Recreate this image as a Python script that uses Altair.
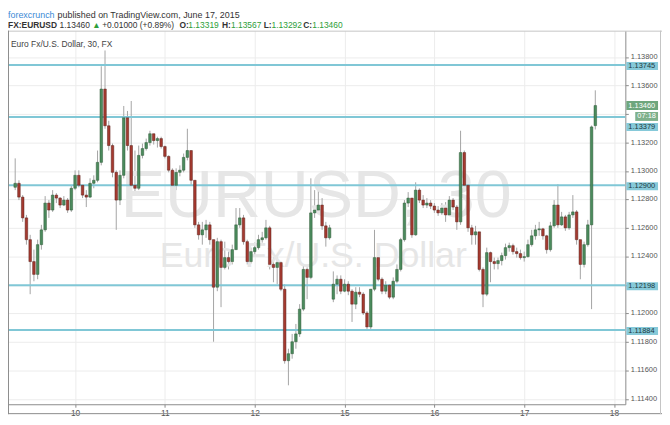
import altair as alt
import pandas as pd

# ---------------- data (hourly candles) ----------------
START = -16            # bar index of first candle (0 = June 10 00:00)
first_open = 1.12886
closes = [
    1.12914, 1.12817, 1.12671, 1.12518, 1.12364, 1.12274, 1.12483, 1.12587, 1.12775, 1.12726,
    1.12831, 1.12810, 1.12761, 1.12796, 1.12726, 1.12879,
    1.12970, 1.12900, 1.12831, 1.12817, 1.12914, 1.12935, 1.13061, 1.13576, 1.13318, 1.13179,
    1.12991, 1.12796, 1.12970, 1.13374, 1.13179, 1.12900, 1.12879, 1.13110, 1.13158, 1.13200,
    1.13262, 1.13214, 1.13228, 1.13172, 1.13103, 1.13006, 1.12900, 1.12991, 1.13006, 1.13096,
    1.13144, 1.12935, 1.12622, 1.12552, 1.12587, 1.12622, 1.12518, 1.12184, 1.12504, 1.12323,
    1.12392, 1.12364, 1.12448, 1.12622, 1.12671, 1.12504, 1.12364, 1.12434, 1.12462, 1.12518,
    1.12531, 1.12601, 1.12344, 1.12323, 1.12357, 1.12170, 1.11668, 1.11717, 1.11801, 1.11856,
    1.12030, 1.12309, 1.12253, 1.12706, 1.12726, 1.12761, 1.12615, 1.12531, 1.12601, 1.12205,
    1.12240, 1.12156, 1.12205, 1.12156, 1.12065, 1.12149, 1.12135, 1.12003, 1.11905, 1.12170,
    1.12392, 1.12240, 1.12156, 1.12198, 1.12114, 1.12226, 1.12309, 1.12518, 1.12775, 1.12810,
    1.12552, 1.12866, 1.12796, 1.12761, 1.12775, 1.12754, 1.12726, 1.12706, 1.12740, 1.12692,
    1.12796, 1.12747, 1.12643, 1.13130, 1.12900, 1.12601, 1.12552, 1.12573, 1.12309, 1.12135,
    1.12427, 1.12364, 1.12350, 1.12371, 1.12406, 1.12462, 1.12476, 1.12434, 1.12420, 1.12392,
    1.12399, 1.12483, 1.12545, 1.12587, 1.12594, 1.12545, 1.12448, 1.12615, 1.12761, 1.12622,
    1.12678, 1.12601, 1.12692, 1.12713, 1.12518, 1.12344, 1.12483, 1.12622, 1.13310, 1.13460,
]
highs = [
    1.13089, 1.12935, 1.12831, 1.12692, 1.12552, 1.12448, 1.12518, 1.12622, 1.12824, 1.12796,
    1.12866, 1.12845, 1.12817, 1.12824, 1.12810, 1.12900,
    1.13005, 1.13005, 1.12900, 1.12866, 1.12949, 1.12970, 1.13144, 1.13736, 1.13847, 1.13353,
    1.13193, 1.13005, 1.13005, 1.13457, 1.13422, 1.13492, 1.13144, 1.13179, 1.13193, 1.13228,
    1.13283, 1.13262, 1.13241, 1.13241, 1.13179, 1.13110, 1.13019, 1.13019, 1.13040, 1.13123,
    1.13297, 1.13144, 1.12935, 1.12643, 1.12643, 1.12657, 1.12643, 1.12518, 1.12531, 1.12518,
    1.12504, 1.12434, 1.12483, 1.12740, 1.12740, 1.12692, 1.12518, 1.12462, 1.12497, 1.12552,
    1.12573, 1.12657, 1.12615, 1.12392, 1.12392, 1.12364, 1.12205, 1.11752, 1.11856, 1.11926,
    1.12065, 1.12344, 1.12323, 1.12949, 1.12866, 1.12879, 1.12810, 1.12643, 1.12622, 1.12295,
    1.12267, 1.12267, 1.12240, 1.12226, 1.12170, 1.12184, 1.12184, 1.12149, 1.12016, 1.12170,
    1.12587, 1.12448, 1.12253, 1.12226, 1.12205, 1.12253, 1.12344, 1.12531, 1.12796, 1.12852,
    1.12810, 1.12921, 1.12879, 1.12831, 1.12810, 1.12796, 1.12775, 1.12754, 1.12775, 1.12782,
    1.12824, 1.12810, 1.12761, 1.13283, 1.13144, 1.12914, 1.12622, 1.12615, 1.12573, 1.12323,
    1.12462, 1.12434, 1.12392, 1.12392, 1.12427, 1.12490, 1.12497, 1.12490, 1.12462, 1.12448,
    1.12434, 1.12518, 1.12587, 1.12622, 1.12643, 1.12601, 1.12552, 1.12643, 1.12796, 1.12907,
    1.12713, 1.12692, 1.12713, 1.12831, 1.12726, 1.12518, 1.12504, 1.12657, 1.13320, 1.13567,
]
lows = [
    1.12866, 1.12796, 1.12643, 1.12483, 1.12135, 1.12226, 1.12240, 1.12448, 1.12573, 1.12671,
    1.12713, 1.12775, 1.12740, 1.12754, 1.12706, 1.12713,
    1.12866, 1.12886, 1.12810, 1.12747, 1.12810, 1.12879, 1.12921, 1.13040, 1.13297, 1.13144,
    1.12956, 1.12587, 1.12761, 1.12949, 1.13144, 1.12866, 1.12852, 1.12866, 1.13089, 1.13144,
    1.13179, 1.13186, 1.13165, 1.13158, 1.13089, 1.12991, 1.12845, 1.12866, 1.12963, 1.12991,
    1.13075, 1.12900, 1.12601, 1.12518, 1.12483, 1.12531, 1.12483, 1.11801, 1.12156, 1.12044,
    1.12309, 1.12309, 1.12344, 1.12448, 1.12601, 1.12483, 1.12344, 1.12350, 1.12406, 1.12448,
    1.12497, 1.12518, 1.12309, 1.12219, 1.12205, 1.12156, 1.11647, 1.11495, 1.11682, 1.11752,
    1.11835, 1.12016, 1.12100, 1.12240, 1.12671, 1.12706, 1.12587, 1.12469, 1.12518, 1.12079,
    1.12135, 1.12135, 1.12149, 1.12128, 1.11940, 1.12030, 1.12114, 1.11989, 1.11891, 1.11891,
    1.12156, 1.12226, 1.12135, 1.12135, 1.12100, 1.12100, 1.12212, 1.12295, 1.12504, 1.12747,
    1.12531, 1.12545, 1.12775, 1.12740, 1.12740, 1.12733, 1.12706, 1.12685, 1.12692, 1.12643,
    1.12685, 1.12726, 1.12587, 1.12622, 1.12879, 1.12573, 1.12483, 1.12483, 1.12295, 1.12044,
    1.12121, 1.12219, 1.12309, 1.12309, 1.12337, 1.12378, 1.12434, 1.12413, 1.12392, 1.12378,
    1.12364, 1.12392, 1.12469, 1.12518, 1.12545, 1.12518, 1.12420, 1.12434, 1.12601, 1.12601,
    1.12615, 1.12580, 1.12587, 1.12671, 1.12483, 1.12240, 1.12323, 1.12469, 1.12030, 1.13292,
]
gap_opens = {69: 1.12100, 139: 1.13319}   # bars whose open differs from the previous close

levels = [1.13745, 1.13379, 1.12900, 1.12198, 1.11884]
level_shifted = [False, True, False, False, False]
last_price = 1.13460
countdown = "07:18"

price_ticks = [1.114, 1.116, 1.118, 1.120, 1.122, 1.124, 1.126,
               1.128, 1.130, 1.132, 1.134, 1.136, 1.138]
hidden_price_labels = [1.122, 1.134]     # covered by the level / price boxes
day_ticks = [0, 24, 48, 72, 96, 120, 144]
day_labels = ["10", "11", "12", "15", "16", "17", "18"]

title_line = ["forexcrunch", " published on TradingView.com, June 17, 2015"]
quote_parts = [  # text, x, bold, color
    ("FX:EURUSD", 0, True, "#333333"),
    ("1.13460", 52, False, "#333333"),
    ("\u25b2", 85, False, "#2e9e3a"),
    ("+0.01000 (+0.89%)", 95, False, "#333333"),
    ("O:", 173, True, "#333333"), ("1.13319", 182, False, "#2e9e3a"),
    ("H:", 216, True, "#333333"), ("1.13567", 225, False, "#2e9e3a"),
    ("L:", 258, True, "#333333"), ("1.13292", 266, False, "#2e9e3a"),
    ("C:", 298, True, "#333333"), ("1.13460", 307, False, "#2e9e3a"),
]
symbol_desc = "Euro Fx/U.S. Dollar, 30, FX"
watermark_big = "EURUSD, 30"
watermark_small = "Euro Fx/U.S. Dollar"

# ---------------- build tables ----------------
rows = []
prev = first_open
for k, (c, h, l) in enumerate(zip(closes, highs, lows)):
    idx = START + k
    o = gap_opens.get(idx, prev)
    rows.append(dict(idx=idx, open=o, close=c, high=max(h, o, c), low=min(l, o, c),
                     dir="up" if c >= o else "down"))
    prev = c
df = pd.DataFrame(rows)

lev = pd.DataFrame({"level": levels, "label": [f"{v:.5f}" for v in levels],
                    "shifted": level_shifted})
lev_main = lev[~lev["shifted"]]
lev_shift = lev[lev["shifted"]]
cur = pd.DataFrame({"p": [last_price], "label": [f"{last_price:.5f}"], "cd": [countdown]})

W, H = 623, 377
FONT = "Liberation Sans"
xs = alt.Scale(domain=[-16.6, 145.7], nice=False, zero=False)
ys = alt.Scale(domain=[1.11362, 1.13986], nice=False, zero=False)

label_expr = "''"
for p, lab in reversed(list(zip(day_ticks, day_labels))):
    label_expr = f"datum.value == {p} ? '{lab}' : ({label_expr})"

hide_cond = " || ".join(f"abs(datum.value - {v}) < 0.000001" for v in hidden_price_labels)
y_label_expr = f"({hide_cond}) ? '' : format(datum.value, '.5f')"

X_AXIS = alt.Axis(
    values=day_ticks, labelExpr=label_expr, title=None, grid=True, gridColor="#ececec",
    domainColor="#8c8c8c", tickColor="#8c8c8c", tickSize=3, labelFontSize=8.5,
    labelColor="#555555", labelPadding=1, labelFlush=False, labelFont=FONT)
Y_AXIS = alt.Axis(
    orient="right", values=price_ticks, labelExpr=y_label_expr, title=None, grid=True,
    gridColor="#ececec", domainColor="#8c8c8c", tickColor="#8c8c8c", tickSize=3,
    labelFontSize=7.5, labelColor="#555555", labelPadding=2, labelFont=FONT, labelOffset=-0.5)


def Y(field):
    return alt.Y(field, scale=ys, axis=Y_AXIS, title=None)


def X(field):
    return alt.X(field, scale=xs, axis=X_AXIS, title=None)


def txt_layer(text, x, y, size, color, bold=False, align="left", baseline="alphabetic"):
    return alt.Chart(pd.DataFrame({"t": [text]})).mark_text(
        align=align, baseline=baseline, fontSize=size, color=color, font=FONT,
        fontWeight="bold" if bold else "normal"
    ).encode(text="t:N", x=alt.value(x), y=alt.value(y))

# watermark
wm1 = txt_layer(watermark_big, 311, 188, 67, "#e6e6e6", align="center")
wm2 = txt_layer(watermark_small, 308, 238, 36, "#e6e6e6", align="center")

level_lines = alt.Chart(lev).mark_rule(color="#80c7d6", strokeWidth=2).encode(
    y=Y("level:Q"), x=alt.value(0), x2=alt.value(W))

wicks = alt.Chart(df).mark_rule(color="#a4a4a4", strokeWidth=1).encode(
    x=X("idx:Q"), y=Y("low:Q"), y2="high:Q")

bodies = alt.Chart(df).mark_bar(size=2.6, strokeWidth=0.5).encode(
    x=X("idx:Q"),
    y=Y("open:Q"),
    y2="close:Q",
    fill=alt.Fill("dir:N", scale=alt.Scale(domain=["up", "down"], range=["#4b8b5d", "#a53a30"]), legend=None),
    stroke=alt.Stroke("dir:N", scale=alt.Scale(domain=["up", "down"], range=["#2c5736", "#5a1e18"]), legend=None),
)


def level_boxes(data, off):
    box = alt.Chart(data).mark_rule(color="#86c9d9", strokeWidth=8, yOffset=off).encode(
        y=Y("level:Q"), x=alt.value(624), x2=alt.value(656))
    lab = alt.Chart(data).mark_text(align="left", baseline="middle", fontSize=7.5,
                                    color="#1d3a41", font=FONT, yOffset=off).encode(
        y=Y("level:Q"), x=alt.value(626), text="label:N")
    return [box, lab]

lb1 = level_boxes(lev_main, 1)
lb2 = level_boxes(lev_shift, 10)

cur_box = alt.Chart(cur).mark_rule(color="#6ea67d", strokeWidth=9).encode(
    y=Y("p:Q"), x=alt.value(624), x2=alt.value(656))
cur_txt = alt.Chart(cur).mark_text(align="left", baseline="middle", fontSize=7.5,
                                   color="white", font=FONT).encode(
    y=Y("p:Q"), x=alt.value(626), text="label:N")
cd_box = alt.Chart(cur).mark_rule(color="#7eb08b", strokeWidth=9, yOffset=11).encode(
    y=Y("p:Q"), x=alt.value(633), x2=alt.value(656))
cd_txt = alt.Chart(cur).mark_text(align="center", baseline="middle", fontSize=7.5,
                                  color="white", font=FONT, yOffset=11).encode(
    y=Y("p:Q"), x=alt.value(644.5), text="cd:N")

desc = txt_layer(symbol_desc, 3, 16, 8.5, "#444444")
head1a = txt_layer(title_line[0], 0, -12.5, 9, "#3b8ad6")
head1b = txt_layer(title_line[1], 50, -12.5, 9, "#333333")
quote_layers = [txt_layer(t, x, -2.5, 8.5, c, bold=b) for t, x, b, c in quote_parts]


def hline(y, x1, x2, color):
    return alt.Chart(pd.DataFrame({"a": [0]})).mark_rule(color=color, strokeWidth=1).encode(
        y=alt.value(y), x=alt.value(x1), x2=alt.value(x2))


def vline(x, y1, y2, color):
    return alt.Chart(pd.DataFrame({"a": [0]})).mark_rule(color=color, strokeWidth=1).encode(
        x=alt.value(x), y=alt.value(y1), y2=alt.value(y2))

borders = [hline(0.5, 0, 660, "#c4c4c4"), hline(386.5, 0, 660, "#8c8c8c"),
           vline(0.5, 0, 387, "#8c8c8c"), vline(658.5, 0, 387, "#c4c4c4")]

chart = alt.layer(
    wicks, wm1, wm2, level_lines, bodies, *lb1, *lb2, cur_box, cur_txt, cd_box, cd_txt,
    desc, head1a, head1b, *quote_layers, *borders
).properties(
    width=W, height=H,
    autosize=alt.AutoSizeParams(type="none"),
    padding={"left": 0, "top": 21, "right": 37, "bottom": 11},
    background="white",
).configure_view(stroke=None).configure_text(font=FONT)

chart.save("out.html", embed_options={"renderer": "svg", "actions": False})
